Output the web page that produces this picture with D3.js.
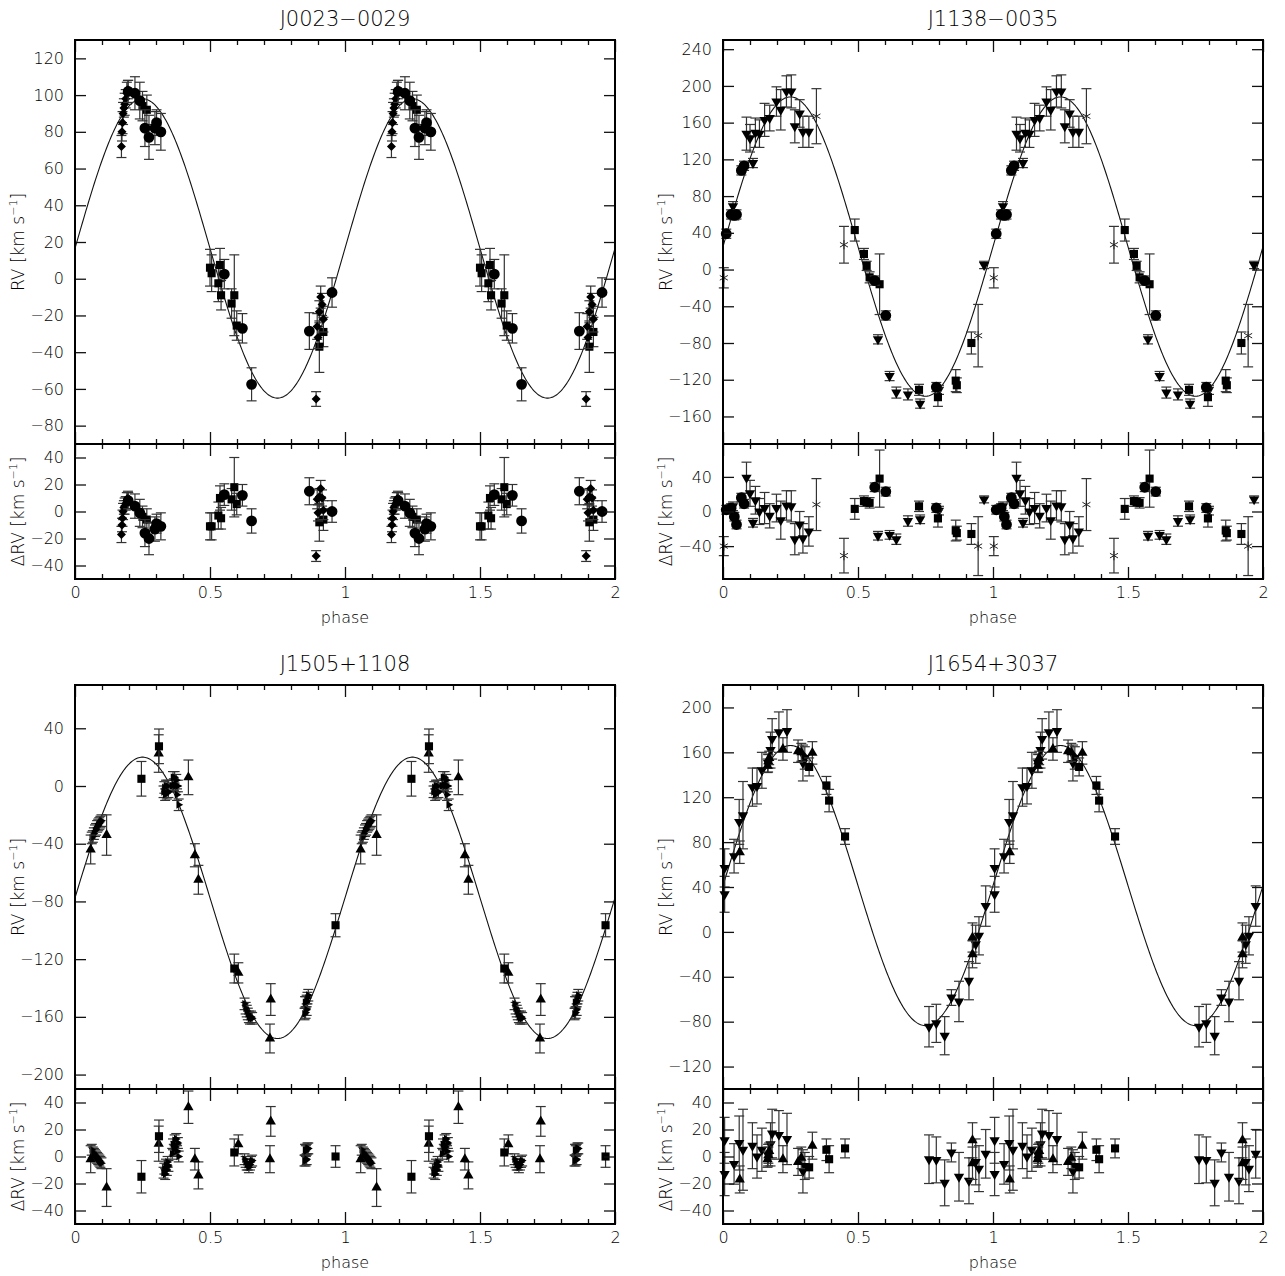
<!DOCTYPE html>
<html>
<head>
<meta charset="utf-8">
<script src="https://cdn.jsdelivr.net/npm/d3@7"></script>
<style>
  body { margin: 0; background: #fff; }
  text { font-family: "DejaVu Sans", "Liberation Sans", sans-serif; font-weight: 200; fill: #000; }
</style>
</head>
<body>
<svg id="chart" width="1285" height="1276"></svg>
<script>
// each point: [phase, RV, error, residual]  (km/s)

// J0023-0029
const j0023Circles = [
  [0.197, 102, 6, 8], [0.222, 101, 9, 4], [0.240, 97, 10, -1], [0.259, 82, 10, -16],
  [0.274, 77, 12, -20], [0.296, 82, 9, -13], [0.302, 85, 7, -9], [0.318, 80, 10, -11],
  [0.553, 2.5, 8, 12.5], [0.620, -27, 8, 12], [0.654, -57.5, 9, -7], [0.868, -28.5, 10, 15],
  [0.952, -7.5, 8, 0]
];
const j0023Squares = [
  [0.250, 94, 8, -4], [0.266, 92, 8, -6], [0.500, 6, 10, -11], [0.506, 3, 10, -11],
  [0.531, -2.5, 10, -3], [0.537, 7.5, 9, 10], [0.541, -9, 8, -5], [0.580, -13.5, 8, 9],
  [0.590, -9, 22, 18], [0.599, -25.5, 8, 5.5], [0.905, -37, 14, -8], [0.920, -29, 8, -6]
];
const j0023Diamonds = [
  [0.172, 72, 6, -17], [0.174, 80, 5, -10], [0.176, 85, 6, -5], [0.178, 90, 6, 0],
  [0.181, 93, 5, 3], [0.184, 95, 6, 4], [0.188, 98, 5, 6], [0.192, 101, 6, 8],
  [0.196, 103, 5, 10], [0.893, -65.5, 4, -33], [0.897, -26, 7, 9], [0.900, -32, 6, -1],
  [0.905, -18, 6, 11], [0.910, -10, 6, 17], [0.915, -14, 6, 10], [0.920, -22, 7, 1]
];

// J1138-0035
const j1138Circles = [
  [0.012, 39, 5, 2], [0.030, 60, 5, 4], [0.042, 59, 5, -6], [0.050, 60, 5, -15],
  [0.068, 108, 5, 16], [0.078, 113, 5, 9], [0.562, -12, 5, 28], [0.603, -50, 5, 23],
  [0.790, -128, 5, 4]
];
const j1138Squares = [
  [0.488, 43, 12, 3], [0.522, 17, 6, 12], [0.532, 4, 5, 11], [0.543, -8.5, 6, 10],
  [0.580, -16, 33, 38], [0.726, -131, 6, 6], [0.796, -139, 10, -8], [0.862, -121, 12, -22],
  [0.866, -126, 8, -25], [0.920, -80, 12, -26]
];
const j1138DownTri = [
  [0.037, 69, 5, 6], [0.087, 148, 18, 39], [0.100, 143, 15, 21], [0.111, 116, 5, -13],
  [0.120, 149, 16, 13], [0.135, 148, 15, 0], [0.154, 163, 18, 4], [0.173, 165, 14, -5],
  [0.198, 183, 16, 4], [0.214, 174, 22, -10], [0.235, 194, 17, 7], [0.253, 194, 18, 6],
  [0.266, 156, 18, -32], [0.284, 170, 15, -15], [0.296, 150, 17, -31], [0.318, 150, 17, -23],
  [0.574, -76, 5, -28], [0.617, -116, 5, -27], [0.642, -134, 6, -32], [0.685, -136, 6, -11],
  [0.730, -146, 5, -9], [0.800, -131, 5, 1], [0.967, 5, 4, 14]
];
const j1138Stars = [
  [0.003, -9, 11, -40], [0.346, 167, 30, 8], [0.448, 27, 20, -51], [0.945, -72, 34, -40]
];

// J1505+1108
const j1505UpTri = [
  [0.058, -44, 10, -2], [0.117, -34, 14, -23], [0.310, 22.5, 13, 9.5], [0.420, 6, 12, 36.5],
  [0.444, -48, 8, -2], [0.457, -65, 10, -14], [0.605, -129.5, 7, 9], [0.725, -148, 11, 26],
  [0.722, -175, 10, -2]
];
const j1505Squares = [
  [0.246, 5, 12, -15], [0.311, 27.5, 12, 15], [0.590, -126.5, 10, 3], [0.965, -96.5, 8, 0]
];
const j1505RightTri = [
  [0.062, -36, 4, 5], [0.066, -35, 4, 3], [0.070, -33, 4, 2], [0.074, -31, 4, 1],
  [0.078, -30, 4, 0], [0.082, -28, 4, -1], [0.086, -27, 4, -2], [0.090, -26, 4, -3],
  [0.094, -25, 4, -4], [0.098, -24, 4, -5],
  [0.328, -4, 4, -12], [0.331, -1, 4, -9], [0.334, -6, 4, -13], [0.337, 0, 4, -6],
  [0.340, -5, 4, -10], [0.343, 0, 4, -4], [0.346, -4, 4, -7],
  [0.360, 0, 4, 2], [0.363, 6, 4, 9], [0.366, 1, 4, 5], [0.369, 6, 4, 12],
  [0.372, 0, 4, 7], [0.375, 4, 4, 13], [0.378, -6, 4, 4], [0.381, 0, 4, 10], [0.384, -13, 4, 0],
  [0.628, -151, 4, -2], [0.632, -154, 4, -4], [0.636, -156, 4, -6], [0.640, -158, 4, -6],
  [0.644, -160, 4, -8], [0.648, -161, 4, -6], [0.652, -160, 4, -4], [0.656, -161, 4, -3],
  [0.852, -150, 4, 5], [0.855, -150, 4, 4], [0.858, -149, 4, 5], [0.861, -147, 4, 6],
  [0.864, -145, 4, 6], [0.850, -158, 4, -3], [0.854, -157, 4, -3], [0.858, -155, 4, -2]
];

// J1654+3037
const j1654DownTri = [
  [0.006, 57, 17, 12], [0.006, 33.5, 16, -13], [0.041, 67.5, 15, -5.5], [0.060, 98, 20, 10],
  [0.074, 104, 30, 5], [0.109, 129, 17, 8], [0.126, 130, 16, 0], [0.144, 144, 16, 5],
  [0.167, 150.5, 8, 1], [0.176, 162, 16, 9], [0.182, 172, 18, 17], [0.207, 178, 18, 16],
  [0.237, 179, 19, 13], [0.296, 150.5, 16, -11], [0.303, 155, 10, -7],
  [0.763, -84.5, 18, -2], [0.790, -81.5, 17, -2.5], [0.821, -92.5, 17, -19.5],
  [0.846, -58.5, 7, 3], [0.874, -62, 18, -15], [0.911, -43.5, 17, -18], [0.936, -11, 17, -4],
  [0.948, -3.5, 17, -9], [0.973, 23, 18, 2]
];
const j1654UpTri = [
  [0.062, 71, 10, -17], [0.165, 148, 6, -2], [0.168, 152, 6, 1], [0.171, 155, 6, 4],
  [0.222, 163, 10, -2], [0.278, 161, 10, -4], [0.290, 160, 8, -1], [0.331, 159.5, 10, 8],
  [0.924, -5, 13, 12], [0.924, -20, 12, -5]
];
const j1654Squares = [
  [0.319, 147, 8, -8], [0.383, 130.5, 8, 5], [0.393, 117, 10, -2], [0.452, 85, 7, 6]
];

// fitted orbits: RV = gamma + K sin(2 pi phase)
const j0023Fit = { gamma: 16.5, K: 81.5 };
const j1138Fit = { gamma: 25, K: 163 };
const j1505Fit = { gamma: -77.5, K: 97.5 };
const j1654Fit = { gamma: 41.3, K: 124.8 };

// ticks
const phaseMajor = [0, 0.5, 1, 1.5, 2];
const phaseMinor = [0.1, 0.2, 0.3, 0.4, 0.6, 0.7, 0.8, 0.9, 1.1, 1.2, 1.3, 1.4, 1.6, 1.7, 1.8, 1.9];
const j0023RvTicks = [-80, -60, -40, -20, 0, 20, 40, 60, 80, 100, 120];
const j1138RvTicks = [-160, -120, -80, -40, 0, 40, 80, 120, 160, 200, 240];
const j1505RvTicks = [-200, -160, -120, -80, -40, 0, 40];
const j1654RvTicks = [-120, -80, -40, 0, 40, 80, 120, 160, 200];
const resTicks20 = [-40, -20, 0, 20, 40];
const resTicks40 = [-40, 0, 40];

const panels = [
  { title: "J0023\u22120029", left: 75, top: 40, rvDomain: [-90, 130], resDomain: [-50, 50],
    rvTicks: j0023RvTicks, resTicks: resTicks20, fit: j0023Fit,
    series: [[j0023Squares, "square"], [j0023Diamonds, "diamond"], [j0023Circles, "circle"]] },
  { title: "J1138\u22120035", left: 723, top: 40, rvDomain: [-190, 250], resDomain: [-78, 78],
    rvTicks: j1138RvTicks, resTicks: resTicks40, fit: j1138Fit,
    series: [[j1138Stars, "asterisk"], [j1138DownTri, "down"], [j1138Squares, "square"], [j1138Circles, "circle"]] },
  { title: "J1505+1108", left: 75, top: 685, rvDomain: [-210, 70], resDomain: [-50, 50],
    rvTicks: j1505RvTicks, resTicks: resTicks20, fit: j1505Fit,
    series: [[j1505RightTri, "right"], [j1505UpTri, "up"], [j1505Squares, "square"]] },
  { title: "J1654+3037", left: 723, top: 685, rvDomain: [-140, 220], resDomain: [-50, 50],
    rvTicks: j1654RvTicks, resTicks: resTicks20, fit: j1654Fit,
    series: [[j1654DownTri, "down"], [j1654UpTri, "up"], [j1654Squares, "square"]] }
];

const W = 540, H_TOP = 404, H_RES = 135;
const svg = d3.select("#chart");

const symbols = {
  circle: d3.symbol(d3.symbolCircle, 92),
  square: d3.symbol(d3.symbolSquare, 66),
  diamond: d3.symbol(d3.symbolDiamond2, 52),
  up: d3.symbol(d3.symbolTriangle, 46),
  down: d3.symbol(d3.symbolTriangle, 46),
  right: d3.symbol(d3.symbolTriangle, 26),
  asterisk: d3.symbol(d3.symbolAsterisk, 60)
};
const rotation = { down: 180, right: 90 };

function drawPoints(g, data, shape, x, y, valueIdx) {
  const pts = [];
  data.forEach(d => {
    [0, 1].forEach(c => pts.push({ ph: d[0] + c, v: d[valueIdx], e: d[2] }));
  });
  const bars = g.append("g").attr("stroke", "#333").attr("stroke-width", 1.2).attr("fill", "none");
  pts.forEach(p => {
    const cx = x(p.ph), y1 = y(p.v - p.e), y2 = y(p.v + p.e);
    bars.append("line").attr("x1", cx).attr("x2", cx).attr("y1", y1).attr("y2", y2);
    bars.append("line").attr("x1", cx - 5).attr("x2", cx + 5).attr("y1", y1).attr("y2", y1);
    bars.append("line").attr("x1", cx - 5).attr("x2", cx + 5).attr("y1", y2).attr("y2", y2);
  });
  g.append("g").selectAll("path").data(pts).join("path")
    .attr("d", symbols[shape])
    .attr("transform", p => `translate(${x(p.ph)},${y(p.v)}) rotate(${rotation[shape] || 0})`)
    .attr("fill", shape === "asterisk" ? "none" : "#000")
    .attr("stroke", shape === "asterisk" ? "#222" : "none")
    .attr("stroke-width", 1);
}

function styleAxis(sel, keepText) {
  sel.select(".domain").remove();
  sel.selectAll(".tick line").attr("stroke", "#111").attr("stroke-width", 1.3);
  sel.selectAll(".tick text").attr("font-size", 16).attr("fill", "#000");
  if (!keepText) sel.selectAll(".tick text").remove();
}

panels.forEach(p => {
  const sep = p.top + H_TOP, bottom = sep + H_RES;
  const x = d3.scaleLinear().domain([0, 2]).range([p.left, p.left + W]);
  const y = d3.scaleLinear().domain(p.rvDomain).range([sep, p.top]);
  const yr = d3.scaleLinear().domain(p.resDomain).range([bottom, sep]);
  const g = svg.append("g");

  g.append("text").attr("x", p.left + W / 2).attr("y", p.top - 14)
    .attr("text-anchor", "middle").attr("font-size", 21).text(p.title);

  // model curve
  const clipId = "clip" + p.left + p.top;
  g.append("clipPath").attr("id", clipId).append("rect")
    .attr("x", p.left).attr("y", p.top).attr("width", W).attr("height", H_TOP);
  const curve = d3.range(0, 2.0001, 0.004).map(ph => [ph, p.fit.gamma + p.fit.K * Math.sin(2 * Math.PI * ph)]);
  g.append("path").datum(curve)
    .attr("clip-path", `url(#${clipId})`)
    .attr("fill", "none").attr("stroke", "#111").attr("stroke-width", 1.1)
    .attr("d", d3.line().x(d => x(d[0])).y(d => y(d[1])));

  // data
  p.series.forEach(([data, shape]) => {
    drawPoints(g, data, shape, x, y, 1);
    drawPoints(g, data, shape, x, yr, 3);
  });

  // y axes
  g.append("g").attr("transform", `translate(${p.left},0)`)
    .call(d3.axisLeft(y).tickValues(p.rvTicks).tickSizeInner(-11).tickSizeOuter(0).tickPadding(11))
    .call(s => styleAxis(s, true));
  g.append("g").attr("transform", `translate(${p.left + W},0)`)
    .call(d3.axisRight(y).tickValues(p.rvTicks).tickSizeInner(-11).tickSizeOuter(0))
    .call(s => styleAxis(s, false));
  g.append("g").attr("transform", `translate(${p.left},0)`)
    .call(d3.axisLeft(yr).tickValues(p.resTicks).tickSizeInner(-11).tickSizeOuter(0).tickPadding(11))
    .call(s => styleAxis(s, true));
  g.append("g").attr("transform", `translate(${p.left + W},0)`)
    .call(d3.axisRight(yr).tickValues(p.resTicks).tickSizeInner(-11).tickSizeOuter(0))
    .call(s => styleAxis(s, false));

  // x axes: top frame, separator (both sides), bottom
  [[p.top, d3.axisTop], [sep, d3.axisBottom], [sep, d3.axisTop], [bottom, d3.axisBottom]].forEach(([yy, ax], i) => {
    g.append("g").attr("transform", `translate(0,${yy})`)
      .call(ax(x).tickValues(phaseMinor).tickSizeInner(-5).tickSizeOuter(0))
      .call(s => styleAxis(s, false));
    g.append("g").attr("transform", `translate(0,${yy})`)
      .call(ax(x).tickValues(phaseMajor).tickSizeInner(-12).tickSizeOuter(0).tickPadding(8)
        .tickFormat(d3.format("~g")))
      .call(s => styleAxis(s, i === 3));
  });

  // frames
  g.append("rect").attr("x", p.left).attr("y", p.top).attr("width", W).attr("height", H_TOP + H_RES)
    .attr("fill", "none").attr("stroke", "#000").attr("stroke-width", 2);
  g.append("line").attr("x1", p.left).attr("x2", p.left + W).attr("y1", sep).attr("y2", sep)
    .attr("stroke", "#000").attr("stroke-width", 2);

  // labels
  g.append("text").attr("x", p.left + W / 2).attr("y", bottom + 44)
    .attr("text-anchor", "middle").attr("font-size", 16).text("phase");
  const yLabel = (cy, prefix) => {
    const t = g.append("text").attr("text-anchor", "middle").attr("font-size", 17)
      .attr("transform", `translate(${p.left - 51},${cy}) rotate(-90)`);
    t.append("tspan").text(prefix + " [km s");
    t.append("tspan").attr("font-size", 11).attr("dy", -7).text("\u22121");
    t.append("tspan").attr("dy", 7).text("]");
  };
  yLabel((p.top + sep) / 2, "RV");
  yLabel((sep + bottom) / 2, "\u0394RV");
});
</script>
</body>
</html>
